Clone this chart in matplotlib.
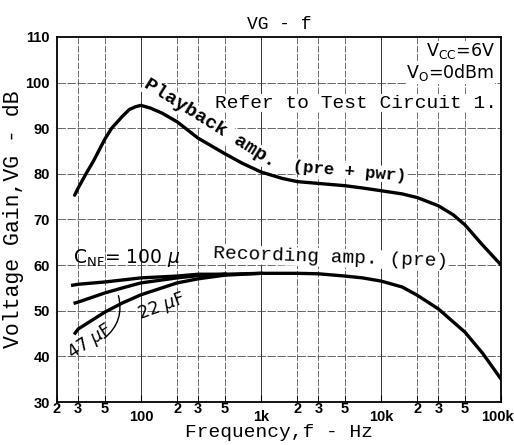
import numpy as np
import matplotlib
matplotlib.use("Agg")
import matplotlib.pyplot as plt
import matplotlib.transforms as mtransforms
from matplotlib.patches import FancyArrowPatch

# playback amp (pre + pwr)
pb_f = [28, 30, 35, 40, 50, 57, 70, 80, 90, 100, 120, 150, 200, 300, 500, 700, 1000, 1500,
        2000, 3000, 5000, 7000, 10000, 15000, 20000, 30000, 40000, 50000, 70000, 100000]
pb_db = [75.3, 76.9, 80.1, 82.7, 87.6, 90, 92.6, 94.1, 94.7, 95, 94.4, 93.3, 91.4, 87.8,
         84.4, 82.3, 80.4, 79, 78.3, 77.9, 77.4, 76.9, 76.3, 75.6, 74.8, 73, 71, 68.8,
         64.4, 60]

# recording amp (pre), common part
rec_f = [500, 1000, 2000, 3000, 5000, 7000, 10000, 15000, 20000, 30000, 50000, 70000, 100000]
rec_db = [58, 58.2, 58.2, 58.1, 57.6, 57.2, 56.5, 55.2, 53.4, 50.4, 45.3, 40.7, 35]

# low-frequency part for each C_NF
c100_f = [27, 30, 50, 100, 200, 300, 500]
c100_db = [55.6, 55.8, 56.3, 57.2, 57.6, 58, 58]
c47_f = [28.3, 30, 50, 70, 100, 200, 300, 500]
c47_db = [51.7, 51.9, 53.9, 55, 56.1, 57.2, 57.7, 58]
c22_f = [28.3, 30, 50, 70, 100, 200, 300, 500, 1000]
c22_db = [45.1, 46, 49.7, 51.7, 53.5, 56.1, 57, 57.8, 58.2]

yticks = [30, 40, 50, 60, 70, 80, 90, 100, 110]
dec_ticks = [100, 1000, 10000, 100000]
dec_labels = ["100", "1k", "10k", "100k"]
sub_ticks = [20, 30, 50, 200, 300, 500, 2000, 3000, 5000, 20000, 30000, 50000]
sub_labels = ["2", "3", "5"] * 4

mono = "Liberation Mono"
tickfont = dict(fontfamily="Liberation Sans", fontweight="bold", fontsize=10.5)

fig = plt.figure(figsize=(5.14, 4.45), dpi=100)
ax = fig.add_axes([0.111, 0.0966, 0.864, 0.8204])
ax.set_xscale("log")
ax.set_xlim(20, 100000)
ax.set_ylim(30, 110)

for v in dec_ticks[:-1]:
    ax.axvline(v, color="0.2", lw=0.7, zorder=1)
for v in sub_ticks[1:]:
    ax.axvline(v, color="0.35", lw=0.6, ls=(0, (8, 2)), zorder=1)
for v in yticks[1:-1]:
    ax.axhline(v, color="0.3", lw=0.6, ls=(0, (10, 2)), zorder=1)

lw = 2.4
ax.plot(pb_f, pb_db, color="black", lw=lw, zorder=3, solid_capstyle="round")
ax.plot(rec_f, rec_db, color="black", lw=lw, zorder=3)
ax.plot(c100_f, c100_db, color="black", lw=lw, zorder=3)
ax.plot(c47_f, c47_db, color="black", lw=lw, zorder=3)
ax.plot(c22_f, c22_db, color="black", lw=lw, zorder=3)

for s in ax.spines.values():
    s.set_linewidth(1.3)

ax.set_yticks(yticks)
ax.set_yticklabels([str(v) for v in yticks], **tickfont)
ax.set_xticks(dec_ticks)
ax.set_xticklabels(dec_labels, **tickfont)
ax.set_xticks(sub_ticks, minor=True)
ax.set_xticklabels(sub_labels, minor=True, **tickfont)
ax.tick_params(axis="x", which="major", direction="in", length=5, pad=6, top=False)
ax.tick_params(axis="x", which="minor", direction="in", length=5, pad=0, top=False)
ax.tick_params(axis="y", direction="in", length=0, pad=5)

# keep "100k" inside the picture
last = ax.get_xticklabels()[-1]
last.set_transform(last.get_transform() +
                   mtransforms.ScaledTranslation(-0.04, 0, fig.dpi_scale_trans))

ax.set_xlabel("Frequency,f - Hz", fontfamily=mono, fontsize=14, labelpad=0)
ax.set_ylabel("Voltage Gain,VG - dB", fontfamily=mono, fontsize=15.5, labelpad=1)
ax.set_title("VG - f", fontfamily=mono, fontsize=13, pad=6)

wb = dict(facecolor="white", edgecolor="none", pad=0.5)

ax.text(0.985, 0.988, "V$_{\\rm CC}$=6V", transform=ax.transAxes, ha="right", va="top",
        fontsize=12.5, bbox=wb, zorder=4)
ax.text(0.985, 0.93, "V$_{\\rm O}$=0dBm", transform=ax.transAxes, ha="right", va="top",
        fontsize=12.5, bbox=wb, zorder=4)
ax.text(414, 95.5, "Refer to Test Circuit 1.", fontfamily=mono, fontsize=14,
        ha="left", va="center", bbox=wb, zorder=4)
ax.text(375, 91.0, "Playback amp.", fontfamily=mono, fontsize=14, fontweight="bold",
        rotation=-32, rotation_mode="anchor", ha="center", va="center", bbox=wb, zorder=4)
ax.text(5500, 80.6, "(pre + pwr)", fontfamily=mono, fontsize=12.5, fontweight="bold",
        rotation=-5, rotation_mode="anchor", ha="center", va="center", bbox=wb, zorder=4)
ax.text(3800, 61.6, "Recording amp. (pre)", fontfamily=mono, fontsize=14,
        rotation=-2, rotation_mode="anchor", ha="center", va="center", bbox=wb, zorder=4)
ax.text(27, 61.5, "C$_{\\rm NF}$= 100 $\\mu$", fontsize=13.5, ha="left", va="center",
        zorder=4)
ax.text(150, 51.0, "22 $\\mu$F", fontsize=12.5, rotation=20, rotation_mode="anchor",
        ha="center", va="center", zorder=4)
ax.text(37.7, 43.2, "47 $\\mu$F", fontsize=12.5, rotation=33, rotation_mode="anchor",
        ha="center", va="center", zorder=4)
arc = FancyArrowPatch((64, 53.9), (47.5, 43.6), connectionstyle="arc3,rad=-0.35",
                      arrowstyle="-", lw=1.0, color="black", zorder=4)
ax.add_patch(arc)

fig.savefig("out.png", dpi=100)
